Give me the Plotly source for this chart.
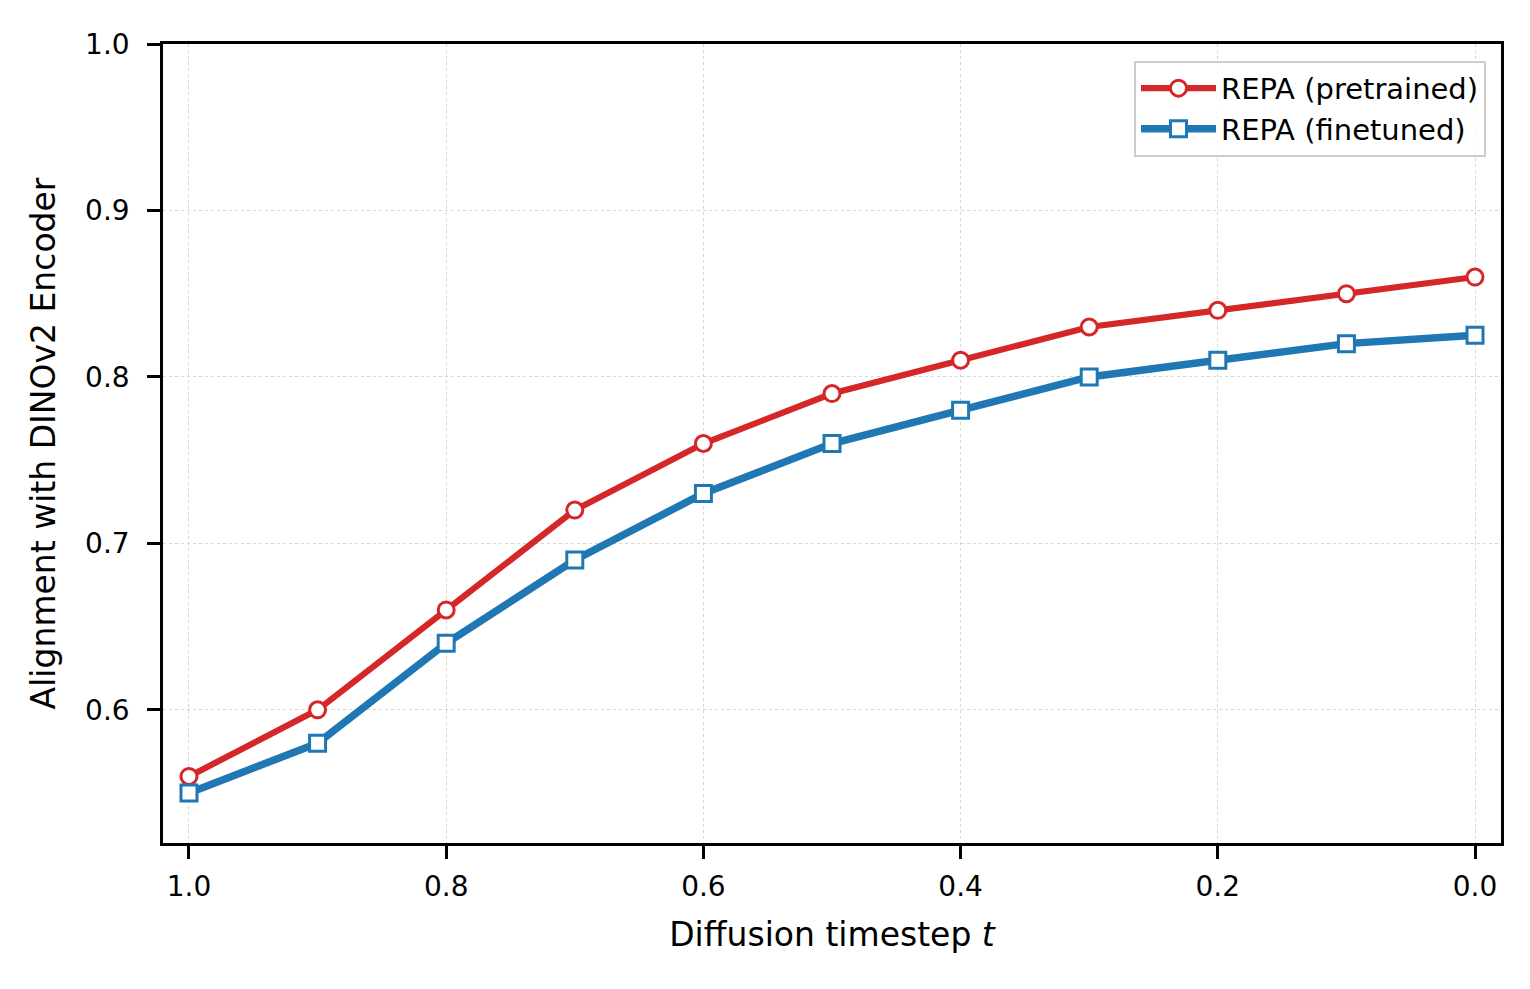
import plotly.graph_objects as go

timesteps = [1.0, 0.9, 0.8, 0.7, 0.6, 0.5, 0.4, 0.3, 0.2, 0.1, 0.0]
pretrained = [0.56, 0.60, 0.66, 0.72, 0.76, 0.79, 0.81, 0.83, 0.84, 0.85, 0.86]
finetuned = [0.55, 0.58, 0.64, 0.69, 0.73, 0.76, 0.78, 0.80, 0.81, 0.82, 0.825]
x_ticks = [1.0, 0.8, 0.6, 0.4, 0.2, 0.0]
y_ticks = [0.6, 0.7, 0.8, 0.9, 1.0]

red = "#d62728"
blue = "#1f77b4"

fig = go.Figure()
fig.add_trace(go.Scatter(
    x=timesteps, y=pretrained, mode="lines+markers", name="REPA (pretrained)",
    line=dict(color=red, width=6.2),
    marker=dict(symbol="circle", size=16, color="white", line=dict(color=red, width=3)),
))
fig.add_trace(go.Scatter(
    x=timesteps, y=finetuned, mode="lines+markers", name="REPA (finetuned)",
    line=dict(color=blue, width=7.5),
    marker=dict(symbol="square", size=16, color="white", line=dict(color=blue, width=3)),
))

axis_common = dict(
    showline=True, linecolor="black", linewidth=2.6, mirror=True,
    ticks="outside", ticklen=13, tickwidth=2.6, tickcolor="black",
    showgrid=True, gridcolor="#d6d6d6", griddash="dot", gridwidth=1.3,
    zeroline=False, tickfont=dict(size=28, color="black"),
)

fig.update_layout(
    width=1530, height=989,
    margin=dict(l=155, r=37, t=36, b=154),
    paper_bgcolor="white", plot_bgcolor="white",
    font=dict(family="DejaVu Sans", color="black"),
    showlegend=True,
    legend=dict(
        x=0.9888, y=0.979, xanchor="right", yanchor="top",
        bordercolor="#cccccc", borderwidth=2, bgcolor="rgba(255,255,255,0.8)",
        font=dict(size=29, color="black"),
        itemwidth=75, tracegroupgap=0,
    ),
    xaxis=dict(
        **axis_common,
        range=[1.0202, -0.0202], tickvals=x_ticks, tickformat=".1f",
        ticklabelstandoff=4,
        title=dict(text="Diffusion timestep <i>t</i>", font=dict(size=33), standoff=21),
    ),
    yaxis=dict(
        **axis_common,
        range=[0.52, 1.0], tickvals=y_ticks, tickformat=".1f",
        ticklabelstandoff=12,
        title=dict(text="Alignment with DINOv2 Encoder", font=dict(size=33), standoff=20),
    ),
)

fig.write_html("out.html")
